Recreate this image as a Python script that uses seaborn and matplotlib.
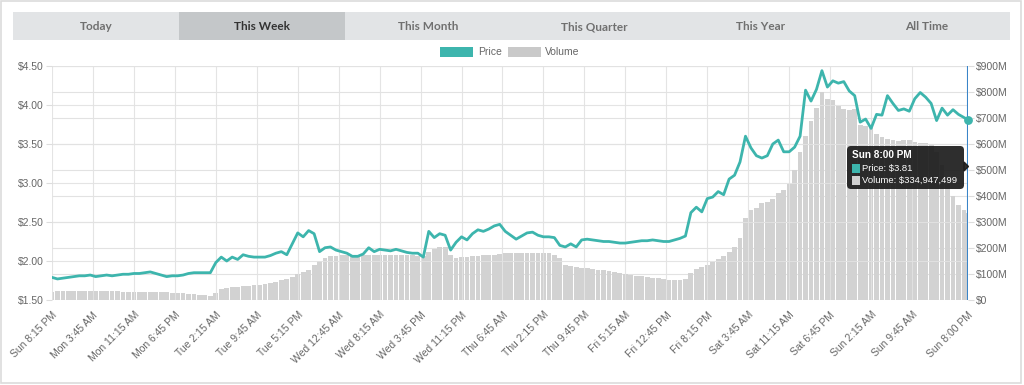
import numpy as np
import pandas as pd
import matplotlib
matplotlib.use('Agg')
import matplotlib.pyplot as plt
from matplotlib.patches import Rectangle, FancyBboxPatch, Polygon
import seaborn as sns

# hourly price ($) from Sun 8:15 PM, last point Sun 8:00 PM
price = [1.79, 1.77, 1.78, 1.79, 1.80, 1.81, 1.81, 1.82, 1.80, 1.81, 1.82, 1.81,
         1.82, 1.83, 1.83, 1.84, 1.84, 1.85, 1.86, 1.84, 1.82, 1.80, 1.81, 1.81,
         1.82, 1.84, 1.85, 1.85, 1.85, 1.85, 1.98, 2.05, 2.00, 2.05, 2.02, 2.08,
         2.06, 2.05, 2.05, 2.05, 2.07, 2.10, 2.12, 2.08, 2.22, 2.36, 2.31, 2.39,
         2.35, 2.12, 2.17, 2.18, 2.14, 2.12, 2.10, 2.06, 2.06, 2.09, 2.17, 2.12,
         2.15, 2.14, 2.13, 2.15, 2.13, 2.11, 2.10, 2.10, 2.05, 2.38, 2.30, 2.35,
         2.33, 2.14, 2.24, 2.31, 2.27, 2.35, 2.40, 2.38, 2.41, 2.45, 2.47, 2.38,
         2.33, 2.28, 2.32, 2.36, 2.37, 2.33, 2.31, 2.31, 2.30, 2.20, 2.18, 2.22,
         2.18, 2.27, 2.28, 2.27, 2.26, 2.25, 2.25, 2.24, 2.23, 2.23, 2.24, 2.25,
         2.26, 2.26, 2.27, 2.26, 2.25, 2.25, 2.27, 2.29, 2.32, 2.62, 2.69, 2.63,
         2.80, 2.82, 2.89, 2.85, 3.05, 3.10, 3.27, 3.60, 3.45, 3.35, 3.32, 3.35,
         3.50, 3.55, 3.40, 3.40, 3.46, 3.60, 4.19, 4.05, 4.20, 4.44, 4.23, 4.31,
         4.28, 4.30, 4.18, 4.12, 3.78, 3.82, 3.70, 3.88, 3.87, 4.12, 4.02, 3.93,
         3.95, 3.92, 4.08, 4.16, 4.10, 4.02, 3.80, 3.96, 3.87, 3.94, 3.88, 3.84,
         3.81]

# volume in millions of $
volume = [32, 33, 34, 35, 35, 35, 35, 34, 34, 34, 33, 33,
          33, 32, 32, 32, 32, 31, 31, 30, 30, 29, 28, 27,
          26, 25, 23, 21, 18, 15, 28, 44, 47, 49, 50, 52,
          54, 56, 58, 61, 64, 68, 76, 80, 90, 100, 108, 117,
          135, 150, 162, 168, 170, 172, 173, 174, 174, 175, 175, 174,
          174, 173, 173, 174, 173, 172, 172, 171, 170, 186, 195, 202,
          205, 172, 163, 164, 167, 169, 171, 172, 173, 175, 178, 179,
          180, 180, 181, 181, 182, 182, 181, 179, 175, 160, 134, 131,
          128, 125, 123, 120, 117, 114, 110, 107, 103, 99, 96, 93,
          91, 88, 85, 83, 80, 78, 77, 78, 80, 105, 118, 126,
          135, 148, 158, 170, 185, 205, 240, 315, 345, 355, 372, 378,
          390, 410, 425, 445, 500, 570, 630, 690, 740, 800, 775, 768,
          745, 735, 730, 735, 675, 670, 665, 640, 628, 620, 615, 612,
          614, 615, 608, 604, 604, 600, 570, 520, 450, 400, 365, 345,
          334.947499]

tabs = ['Today', 'This Week', 'This Month', 'This Quarter', 'This Year', 'All Time']
tick_labels = ['Sun 8:15 PM', 'Mon 3:45 AM', 'Mon 11:15 AM', 'Mon 6:45 PM', 'Tue 2:15 AM',
               'Tue 9:45 AM', 'Tue 5:15 PM', 'Wed 12:45 AM', 'Wed 8:15 AM', 'Wed 3:45 PM',
               'Wed 11:15 PM', 'Thu 6:45 AM', 'Thu 2:15 PM', 'Thu 9:45 PM', 'Fri 5:15 AM',
               'Fri 12:45 PM', 'Fri 8:15 PM', 'Sat 3:45 AM', 'Sat 11:15 AM', 'Sat 6:45 PM',
               'Sun 2:15 AM', 'Sun 9:45 AM', 'Sun 8:00 PM']

start = pd.Timestamp('2018-04-15 20:15')
end = pd.Timestamp('2018-04-22 20:00')
times = pd.date_range(start, periods=168, freq='h').append(pd.DatetimeIndex([end]))
df = pd.DataFrame({'time': times, 'price': price, 'volume': volume})
df['hours'] = (df['time'] - start) / pd.Timedelta(hours=1)
tick_times = pd.date_range(start, periods=22, freq='450min').append(pd.DatetimeIndex([end]))
tick_pos = (tick_times - start) / pd.Timedelta(hours=1)

TEAL = '#3db5ad'
GREY = '#666666'

sns.set_style('white')
plt.rcParams['font.family'] = ['Liberation Sans', 'DejaVu Sans']

W, H = 1024, 385
fig = plt.figure(figsize=(W / 100, H / 100), dpi=100)


def frac(l, t, r, b):
    return [l / W, 1 - b / H, (r - l) / W, (b - t) / H]


ax_p = fig.add_axes(frac(52, 66, 968, 300))
ax_v = ax_p.twinx()
ax_p.set_zorder(ax_v.get_zorder() + 1)
ax_p.patch.set_visible(False)

# volume bars
ax_v.bar(df['hours'], df['volume'], width=0.88, color='#d2d2d2', linewidth=0)
ax_v.set_ylim(0, 900)
ax_v.set_yticks(np.arange(0, 901, 100))
ax_v.set_yticklabels(['$0' if v == 0 else f'${v}M' for v in range(0, 901, 100)])
ax_v.grid(axis='y', color='#e2e2e2', lw=0.8)

# price line
sns.lineplot(data=df, x='hours', y='price', ax=ax_p, color=TEAL, linewidth=2)
ax_p.scatter(df['hours'].iloc[-1], df['price'].iloc[-1], s=28, color=TEAL, zorder=6, clip_on=False)
ax_p.axvline(df['hours'].iloc[-1], color='#3a85c8', lw=1.5, zorder=5)
ax_p.set_xlim(0, tick_pos[-1])
ax_p.set_ylim(1.5, 4.5)
ax_p.set_yticks(np.arange(1.5, 4.51, 0.5))
ax_p.set_yticklabels([f'${v:.2f}' for v in np.arange(1.5, 4.51, 0.5)])
ax_p.set_xticks(tick_pos)
ax_p.set_xticklabels(tick_labels, rotation=45, ha='right', rotation_mode='anchor')
ax_p.grid(True, color='#e2e2e2', lw=0.8, alpha=0.9)
ax_p.set_xlabel('')
ax_p.set_ylabel('')

for a in (ax_p, ax_v):
    for s in a.spines.values():
        s.set_visible(False)
    a.tick_params(length=4, color='#dddddd', pad=2, labelcolor=GREY, labelsize=7.5)
ax_p.tick_params(axis='x', pad=3)

# overlay: frame, tabs, legend, tooltip
ov = fig.add_axes([0, 0, 1, 1], zorder=10)
ov.set_xlim(0, W)
ov.set_ylim(H, 0)
ov.axis('off')
ov.patch.set_visible(False)

ov.add_patch(Rectangle((1, 1), W - 4, H - 3, fill=False, edgecolor='#dcdcdc', lw=1.2))

tab_l, tab_r = 13, 1010
tab_w = (tab_r - tab_l) / len(tabs)
for i, name in enumerate(tabs):
    x0 = tab_l + i * tab_w
    sel = name == 'This Week'
    ov.add_patch(Rectangle((x0, 12), tab_w, 28, color='#c4c7c9' if sel else '#e2e4e6', lw=0))
    ov.text(x0 + tab_w / 2, 26.5, name, ha='center', va='center', fontsize=8.5,
            family='Lato', weight='bold', color='#333333' if sel else '#707070')

ov.add_patch(Rectangle((440, 47), 33, 10, color=TEAL, lw=0))
ov.text(478, 52, 'Price', va='center', fontsize=7.5, color=GREY)
ov.add_patch(Rectangle((508, 47), 33, 10, color='#c9c9c9', lw=0))
ov.text(545, 52, 'Volume', va='center', fontsize=7.5, color=GREY)

ov.add_patch(FancyBboxPatch((847, 146), 117, 43, boxstyle='round,pad=0,rounding_size=4',
                            fc='#1c1c1c', ec='none', alpha=0.92))
ov.add_patch(Polygon([(964, 162), (968.5, 166.5), (964, 171)], color='#1c1c1c', alpha=0.92))
ov.text(852, 155, 'Sun 8:00 PM', va='center', fontsize=7.2, weight='bold', color='white')
ov.add_patch(Rectangle((852, 164), 8, 9, color=TEAL, lw=0))
ov.text(861.5, 168.5, f'Price: ${price[-1]:.2f}', va='center', fontsize=6.8, color='white')
ov.add_patch(Rectangle((852, 176), 8, 9, color='#d0d0d0', lw=0))
ov.text(861.5, 180.5, f'Volume: ${round(volume[-1] * 1e6):,}', va='center', fontsize=6.8, color='white')

fig.savefig('out.png', dpi=100)
